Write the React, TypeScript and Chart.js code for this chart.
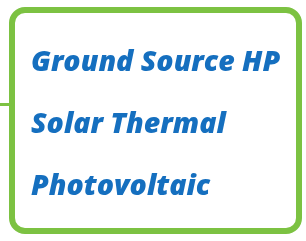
import React, { useEffect, useRef } from "react";
import { Chart, registerables } from "chart.js";

Chart.register(...registerables);

const categories: string[] = ["Ground Source HP", "Solar Thermal", "Photovoltaic"];
const values: number[] = [1, 1, 1];

const GREEN = "#7cc242";
const BLUE = "#156fbf";

const boxPlugin = {
  id: "boxPlugin",
  beforeDraw(chart: any) {
    const ctx = chart.ctx;
    ctx.save();
    ctx.fillStyle = "#ffffff";
    ctx.fillRect(0, 0, chart.width, chart.height);
    // connector
    ctx.strokeStyle = GREEN;
    ctx.lineWidth = 3;
    ctx.beginPath();
    ctx.moveTo(0, 104.5);
    ctx.lineTo(12, 104.5);
    ctx.stroke();
    // rounded box
    ctx.lineWidth = 6;
    ctx.beginPath();
    (ctx as any).roundRect(12, 10, 287, 221, 13);
    ctx.stroke();
    ctx.restore();
  },
  afterDraw(chart: any) {
    const ctx = chart.ctx;
    const y = chart.scales.y;
    ctx.save();
    ctx.fillStyle = BLUE;
    ctx.font = "italic 800 28.5px 'Open Sans'";
    ctx.textBaseline = "alphabetic";
    ctx.textAlign = "left";
    categories.forEach((c, i) => {
      ctx.fillText(c, 31, y.getPixelForValue(i) + 10.5);
    });
    ctx.restore();
  },
};

export default function App() {
  const ref = useRef<HTMLCanvasElement>(null);
  useEffect(() => {
    document.body.style.margin = "0";
    const chart = new Chart(ref.current!, {
      type: "bar",
      data: {
        labels: categories,
        datasets: [{ data: values, backgroundColor: "rgba(0,0,0,0)", borderWidth: 0 }],
      },
      options: {
        indexAxis: "y",
        animation: false,
        responsive: false,
        layout: { padding: { top: 30, bottom: 26, left: 30, right: 10 } },
        plugins: { legend: { display: false }, tooltip: { enabled: false } },
        scales: {
          y: { type: "category", display: false, offset: true },
          x: { display: false, min: 0, max: 10 },
        },
      },
      plugins: [boxPlugin],
    });
    return () => chart.destroy();
  }, []);
  return (
    <div style={{ width: 306, height: 241 }}>
      <canvas ref={ref} width={306} height={241} />
    </div>
  );
}
